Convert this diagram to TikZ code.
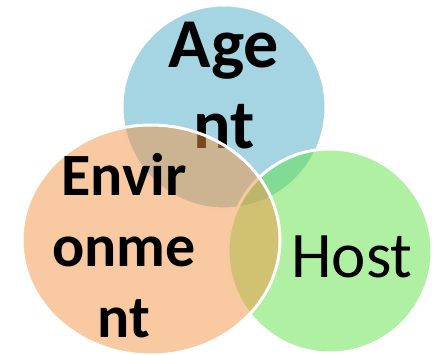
\documentclass[tikz,border=0pt]{standalone}
\usepackage{fontspec}
\setmainfont{Carlito}
\definecolor{agentc}{RGB}{75,171,197}
\definecolor{envc}{RGB}{243,147,69}
\definecolor{hostc}{RGB}{97,225,71}
\tikzset{
  setc/.style={fill=#1, fill opacity=0.5, draw=white, draw opacity=1, line width=3pt},
  lbl/.style={text=black, inner sep=0pt, align=center, anchor=base}
}
\begin{document}
\begin{tikzpicture}[x=1pt,y=1pt]
\useasboundingbox (0,0) rectangle (436,354);
\draw[setc=agentc] (224,247) circle (102);
\node[lbl, font=\bfseries\fontsize{70}{81}\selectfont] (agent) at (224,206) {Age\\nt};
\draw[setc=hostc] (330,103) circle (102);
\draw[setc=envc] (151,114) ellipse [x radius=129, y radius=115];
\node[lbl, font=\bfseries\fontsize{60}{71}\selectfont] (env) at (124,17) {Envir\\onme\\nt};
\node[lbl, font=\fontsize{65}{78}\selectfont] (host) at (352,77) {Host};
\end{tikzpicture}
\end{document}
